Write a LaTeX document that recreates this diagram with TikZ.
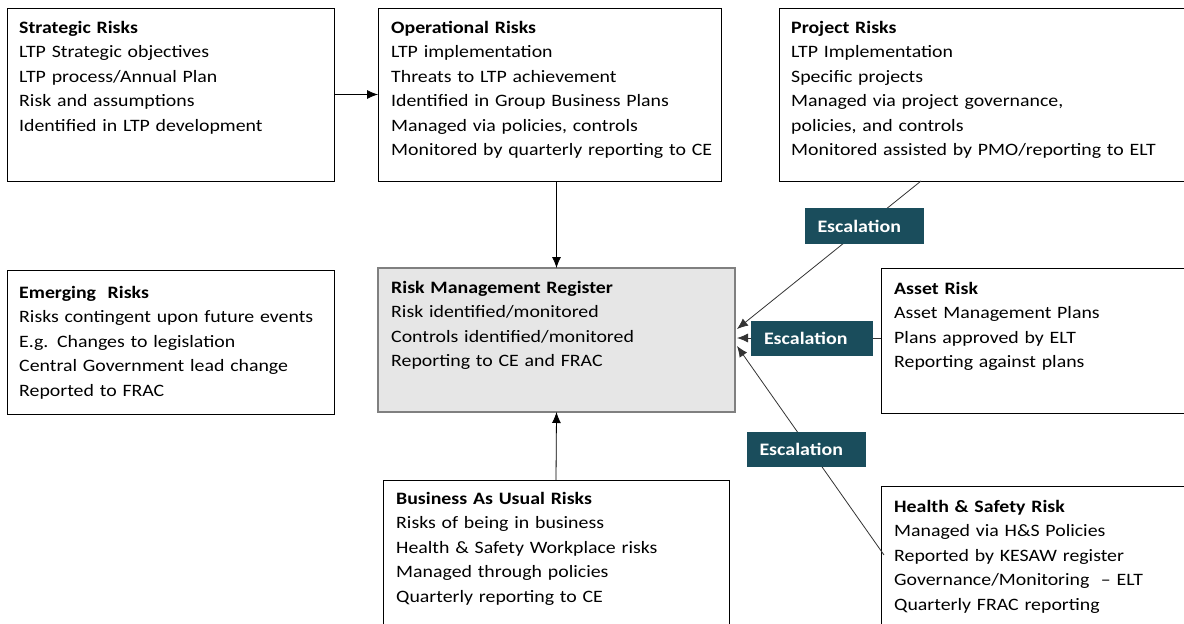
\documentclass[tikz,border=0pt]{standalone}
\usepackage{fontspec}
\setmainfont{Carlito}[FakeStretch=1.14]
\usetikzlibrary{arrows.meta,calc}
\definecolor{esc}{HTML}{1A4D5C}
\definecolor{regfill}{HTML}{E6E6E6}
\definecolor{regedge}{HTML}{808080}
\begin{document}
\begin{tikzpicture}[x=1pt,y=-1pt,
  riskbox/.style={draw=black,line width=1pt,rectangle,inner sep=0pt,outer sep=0pt,anchor=north west},
  regbox/.style={riskbox,draw=regedge,line width=2pt,fill=regfill},
  boxtext/.style={anchor=base west,inner sep=0pt,text width=380pt,align=left,
    font=\fontsize{17.4}{24.5}\selectfont},
  esclabel/.style={fill=esc,text=white,inner xsep=13pt,inner ysep=0pt,text width=93pt,align=left,
    minimum height=36pt,font=\fontsize{17.5}{18}\selectfont\bfseries},
  arr/.style={draw=black,line width=0.8pt,-{Latex[length=11pt,width=9pt]}},
  escarr/.style={draw=black!80,line width=0.8pt,-{Latex[length=11pt,width=9pt]}}]
\useasboundingbox (0,0) rectangle (1184,624);

% frames
\node[riskbox,minimum width=327pt,minimum height=173pt] (strat) at (7,8) {};
\node[riskbox,minimum width=343pt,minimum height=173pt] (oper) at (378,8) {};
\node[riskbox,minimum width=420pt,minimum height=173pt] (proj) at (779,8) {};
\node[riskbox,minimum width=327pt,minimum height=144pt] (emerg) at (7,270) {};
\node[regbox,minimum width=357pt,minimum height=144pt] (reg) at (378,268) {};
\node[riskbox,minimum width=320pt,minimum height=145pt] (asset) at (881,268) {};
\node[riskbox,minimum width=346pt,minimum height=160pt] (bau) at (383,480) {};
\node[riskbox,minimum width=320pt,minimum height=150pt] (hs) at (881,486) {};

% texts
\node[boxtext] (stratT) at (19,33) {\textbf{Strategic Risks}\\LTP Strategic objectives\\LTP process/Annual Plan\\Risk and assumptions\\Identified in LTP development};
\node[boxtext] (operT) at (391,33) {\textbf{Operational Risks}\\LTP implementation\\Threats to LTP achievement\\Identified in Group Business Plans\\Managed via policies, controls\\Monitored by quarterly reporting to CE};
\node[boxtext,text width=400pt] (projT) at (791,33) {\textbf{Project Risks}\\LTP Implementation\\Specific projects\\Managed via project governance,\\policies, and controls\\Monitored assisted by PMO/reporting to ELT};
\node[boxtext] (emergT) at (19,298) {\textbf{Emerging\ \ Risks}\\Risks contingent upon future events\\E.g. Changes to legislation\\Central Government lead change\\Reported to FRAC};
\node[boxtext] (regT) at (391,293) {\textbf{Risk Management Register}\\Risk identified/monitored\\Controls identified/monitored\\Reporting to CE and FRAC};
\node[boxtext,text width=290pt] (assetT) at (894,294) {\textbf{Asset Risk}\\Asset Management Plans\\Plans approved by ELT\\Reporting against plans};
\node[boxtext] (bauT) at (396,504) {\textbf{Business As Usual Risks}\\Risks of being in business\\Health \& Safety Workplace risks\\Managed through policies\\Quarterly reporting to CE};
\node[boxtext,text width=290pt] (hsT) at (894,512) {\textbf{Health \& Safety Risk}\\Managed via H\&S Policies\\Reported by KESAW register\\Governance/Monitoring\ \ -- ELT\\Quarterly FRAC reporting};

% connector ends
\coordinate (projOut) at ($(proj.south west)+(142,0)$);
\coordinate (inA) at ($(reg.east)+(2,-11)$);
\coordinate (inB) at ($(reg.east)+(2,-2)$);
\coordinate (inC) at ($(reg.east)+(2,6)$);
\coordinate (hsOut) at ($(hs.north west)+(3,69)$);

% connectors
\draw[arr] (strat.east) -- (oper.west);
\draw[arr] (reg.north |- oper.south) -- (reg.north);
\draw[arr] (bau.north) -- (reg.south);
\draw[escarr] (projOut) -- (inA);
\draw[escarr] (asset.west |- inB) -- (inB);
\draw[escarr] (hsOut) -- (inC);

% escalation labels
\node[esclabel] (esc1) at (864,226) {Escalation};
\node[esclabel,text width=96pt,inner xsep=13pt,minimum height=35pt] (esc2) at (812,338) {Escalation};
\node[esclabel,minimum height=35pt] (esc3) at (806,449) {Escalation};
\end{tikzpicture}
\end{document}
